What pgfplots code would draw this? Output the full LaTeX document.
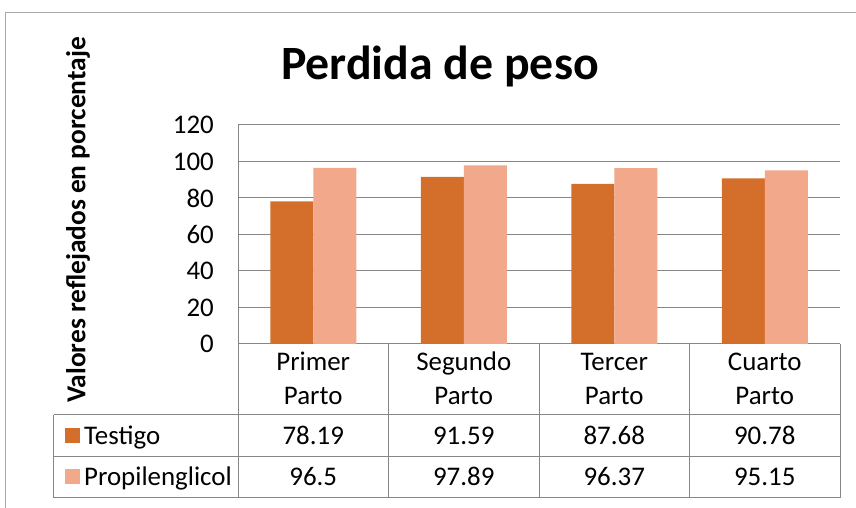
\documentclass[border=0pt]{standalone}
\usepackage{fontspec}
\setmainfont{Carlito}
\usepackage{pgfplots}
\usepackage{pgfplotstable}
\pgfplotsset{compat=1.18}

\definecolor{testigo}{RGB}{212,111,43}
\definecolor{propi}{RGB}{242,168,138}
\definecolor{gridgray}{RGB}{134,134,134}

\pgfplotstableread{
x testigo propi
0 78.19 96.5
1 91.59 97.89
2 87.68 96.37
3 90.78 95.15
}\datatable

\newcommand\tabfont{\fontsize{27}{32}\selectfont}

\begin{document}
\begin{tikzpicture}[x=1bp,y=1bp]
\begin{axis}[
    name=ax,
    at={(0,0)}, anchor=south west,
    scale only axis,
    width=602bp, height=219bp,
    ybar=0pt,
    bar width=43bp,
    xmin=-0.5, xmax=3.5,
    ymin=0, ymax=120,
    ytick distance=20,
    xtick=\empty,
    ymajorgrids,
    grid style={gridgray, line width=1pt},
    axis x line*=bottom,
    axis y line*=left,
    axis line style={gridgray, line width=1pt},
    ytick style={draw=none},
    yticklabel style={font=\tabfont, inner sep=0pt, xshift=-24bp},
    /pgf/number format/assume math mode=true,
    clip=false,
]
\addplot[fill=testigo, draw=none] table[x=x, y=testigo] {\datatable};
\addplot[fill=propi, draw=none] table[x=x, y=propi] {\datatable};
\end{axis}

\useasboundingbox (-238,-164) rectangle (618,344);

% outer chart frame (cropped)
\draw[gridgray!70, line width=1pt] (-232,-164) -- (-232,331) -- (618,331);

% title and y label
\node[anchor=base, font=\fontsize{48}{58}\selectfont\bfseries] at (202,264) {Perdida de peso};
\node[rotate=90, font=\fontsize{27.5}{33}\selectfont\bfseries] at (-160,124) {Valores reflejados en porcentaje};

% data table grid
\begin{scope}[gridgray, line width=1pt]
\foreach \k in {0,150.5,301,451.5,602} \draw (\k,0) -- (\k,-154);
\draw (-184,-71) -- (-184,-154);
\foreach \r in {-71,-113,-154} \draw (-184,\r) -- (602,\r);
\end{scope}

% category labels
\foreach \i/\a in {0/Primer,1/Segundo,2/Tercer,3/Cuarto} {
  \node[anchor=base, inner sep=0pt, font=\tabfont] at (75.25+150.5*\i,-27) {\a};
  \node[anchor=base, inner sep=0pt, font=\tabfont] at (75.25+150.5*\i,-61) {Parto};
}

% legend keys
\fill[testigo] (-173,-99.5) rectangle (-158,-84.5);
\fill[propi] (-173,-140.5) rectangle (-158,-125.5);
\node[anchor=base west, inner sep=0pt, font=\tabfont] at (-154,-100.5) {Testigo};
\node[anchor=base west, inner sep=0pt, font=\tabfont] at (-154,-141.5) {Propilenglicol};

% table values
\foreach \i in {0,1,2,3} {
  \pgfplotstablegetelem{\i}{testigo}\of\datatable
  \node[anchor=base, inner sep=0pt, font=\tabfont] at (75.25+150.5*\i,-100.5) {\pgfplotsretval};
  \pgfplotstablegetelem{\i}{propi}\of\datatable
  \node[anchor=base, inner sep=0pt, font=\tabfont] at (75.25+150.5*\i,-141.5) {\pgfplotsretval};
}
\end{tikzpicture}
\end{document}
